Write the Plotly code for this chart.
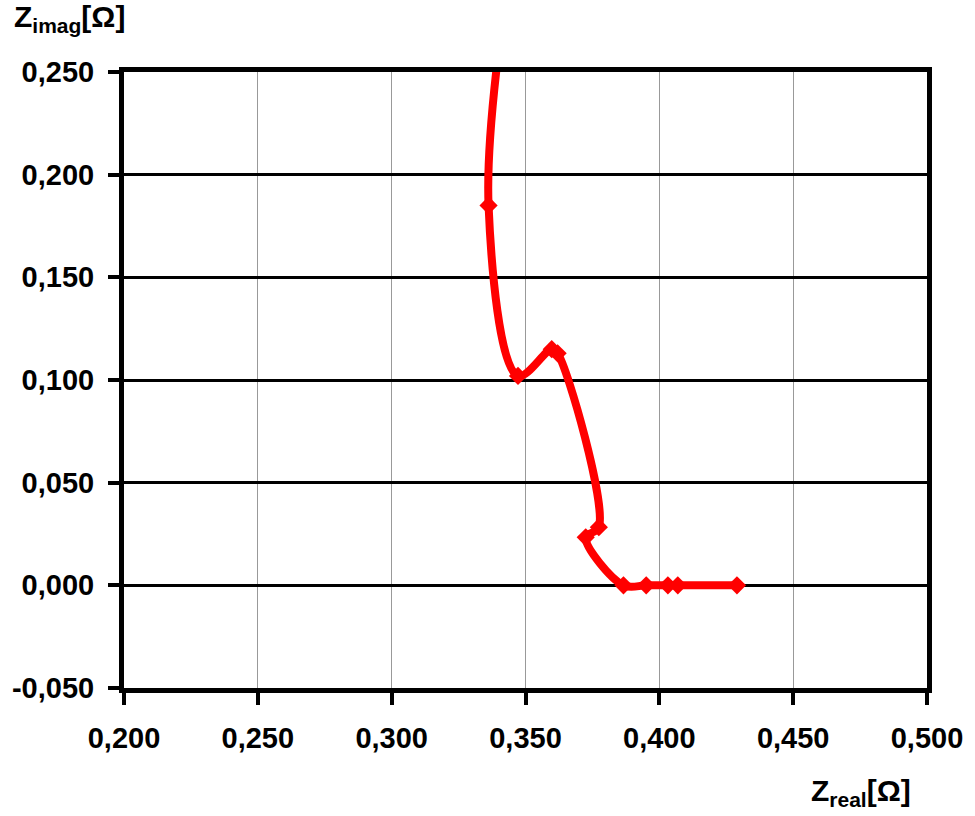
import plotly.graph_objects as go

# data (Z_real, Z_imag) in Ohm, in curve order
z_real = [0.3435, 0.3362, 0.3472, 0.3598, 0.3620, 0.3774, 0.3725, 0.3866, 0.3951, 0.4032, 0.4069, 0.4290]
z_imag = [0.2950, 0.1850, 0.1020, 0.1150, 0.1130, 0.0283, 0.0234, 0.0000, 0.0000, 0.0000, 0.0000, 0.0000]

x_tickvals = [0.20, 0.25, 0.30, 0.35, 0.40, 0.45, 0.50]
x_ticktext = ["0,200", "0,250", "0,300", "0,350", "0,400", "0,450", "0,500"]
y_tickvals = [-0.05, 0.0, 0.05, 0.10, 0.15, 0.20, 0.25]
y_ticktext = ["-0,050", "0,000", "0,050", "0,100", "0,150", "0,200", "0,250"]

FONT = "Liberation Sans, Arial, sans-serif"

fig = go.Figure()
fig.add_trace(go.Scatter(
    x=z_real, y=z_imag, mode="lines+markers",
    line=dict(color="#ff0000", width=8, shape="spline", smoothing=1.0),
    marker=dict(symbol="diamond", size=14, color="#ff0000"),
    showlegend=False, cliponaxis=True,
))

fig.update_layout(
    width=975, height=816,
    margin=dict(l=117, r=38, t=72, b=128),
    paper_bgcolor="white", plot_bgcolor="white",
    font=dict(family=FONT, color="black"),
)
fig.add_annotation(text="<b>Z<sub>imag</sub>[Ω]</b>", xref="paper", yref="paper",
                   x=-0.1395, y=1.12, xanchor="left", yanchor="top", showarrow=False,
                   font=dict(family=FONT, size=30, color="black"))
fig.add_annotation(text="<b>Z<sub>real</sub>[Ω]</b>", xref="paper", yref="paper",
                   x=0.982, y=-0.137, xanchor="right", yanchor="top", showarrow=False,
                   font=dict(family=FONT, size=30, color="black"))

fig.update_xaxes(
    range=[0.2, 0.5], tickvals=x_tickvals, ticktext=x_ticktext,
    tickfont=dict(family=FONT, size=29, color="black", weight="bold"),
    showgrid=True, gridcolor="#999999", gridwidth=1,
    showline=True, linecolor="black", linewidth=5, mirror=True,
    ticks="outside", ticklen=12, tickwidth=4, tickcolor="black",
    zeroline=False, ticklabelstandoff=8,
)
fig.update_yaxes(
    range=[-0.05, 0.25], tickvals=y_tickvals, ticktext=y_ticktext,
    tickfont=dict(family=FONT, size=29, color="black", weight="bold"),
    showgrid=True, gridcolor="black", gridwidth=3,
    showline=True, linecolor="black", linewidth=5, mirror=True,
    ticks="outside", ticklen=11, tickwidth=4, tickcolor="black",
    zeroline=False, ticklabelstandoff=8,
)

fig.write_html("out.html")
